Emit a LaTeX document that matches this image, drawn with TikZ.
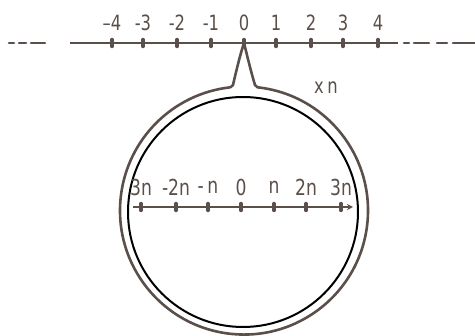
\documentclass[tikz,border=0pt]{standalone}
\usepackage{fontspec}
\setmainfont{DejaVu Sans}[FakeStretch=0.78]
\usetikzlibrary{arrows.meta}
\definecolor{ink}{HTML}{5A4F4A}
\tikzset{
  axis/.style={draw=ink, line width=2.6pt},
  tick/.style={draw=ink, line width=3.4pt, line cap=round},
  lab/.style={text=ink, font=\fontsize{21}{21}\selectfont, inner sep=0pt},
  ilab/.style={text=ink, font=\fontsize{22}{22}\selectfont, inner sep=0pt},
  dsh/.style={draw=ink, line width=2.6pt, line cap=round}
}
\begin{document}
\begin{tikzpicture}[x=1pt,y=-1pt]
\useasboundingbox (0,0) rectangle (475,336);
% top number line
\coordinate (L) at (70,43);
\coordinate (R) at (398,43);
\draw[axis] (L) -- (R);
\coordinate (d1a) at (9,43); \coordinate (d1b) at (14,43);
\coordinate (d2a) at (19,43); \coordinate (d2b) at (26,43);
\coordinate (d3a) at (31,43); \coordinate (d3b) at (45,43);
\coordinate (d4a) at (404,43); \coordinate (d4b) at (409,43);
\coordinate (d5a) at (414,43); \coordinate (d5b) at (429,43);
\coordinate (d6a) at (437,43); \coordinate (d6b) at (447,43);
\coordinate (d7a) at (453,43); \coordinate (d7b) at (475,43);
\foreach \i in {1,...,7} \draw[dsh] (d\i a) -- (d\i b);
\foreach \x/\t [count=\k] in {112/{–4},143/-3,177/-2,211/-1,244/0,276/1,311/2,343/3,378/4}{
  \coordinate (t\k) at (\x,43);
  \draw[tick] ([yshift=-3.5pt]t\k) -- ([yshift=3.5pt]t\k);
  \node[lab] (l\k) at (\x,23) {\t};
}
% speech bubble outer
\coordinate (O) at (244,210);
\coordinate (tip) at (t5);
\draw[ink, line width=2.6pt, line join=round]
  (230.5,87.3) -- (233,85) .. controls (236,72) and (240,55) .. (tip)
  .. controls (247,55) and (251,72) .. (255,85) -- (257.5,87.3)
  arc[start angle=276.25, end angle=623.75, radius=124];
% inner circle
\draw[black, line width=2pt] (243,212) circle[radius=115];
% label xn
\node[lab] (xn) at (326,88) {x\,n};
% inner number line
\coordinate (A) at (133,207);
\coordinate (B) at (353,207);
\draw[axis, -{Stealth[length=6pt,width=6pt]}] (A) -- (B);
\foreach \x/\t [count=\k] in {141/3n,176/-2n,208/-\,n,241/0,274/n,306/2n,341/3n}{
  \coordinate (s\k) at (\x,207);
  \draw[tick] ([yshift=-3.5pt]s\k) -- ([yshift=3.5pt]s\k);
  \node[ilab] (m\k) at (\x,187) {\t};
}
\end{tikzpicture}
\end{document}
